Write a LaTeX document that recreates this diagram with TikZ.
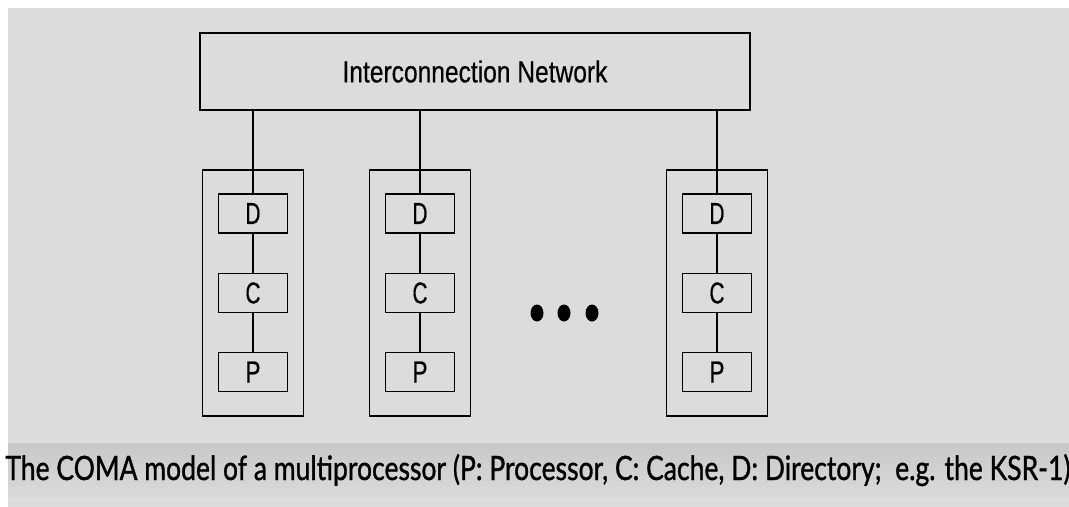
\documentclass[tikz,border=0pt]{standalone}
\usepackage{fontspec}
\setmainfont{Liberation Sans}[FakeBold=0.6]
\newfontfamily\captionfont{Lato}[FakeBold=1.2]
\usetikzlibrary{positioning}

\definecolor{paper}{RGB}{220,220,220}
\definecolor{band}{RGB}{200,200,200}
\newcommand{\narrowtext}[1]{\resizebox{0.3cm}{0.42cm}{#1}}

\begin{document}
\begin{tikzpicture}[x=0.02cm, y=-0.02cm,
	box/.style={draw, line width=1.1pt, inner sep=0pt},
	unit/.style={box, minimum width=1.38cm, minimum height=0.78cm},
	module/.style={box, minimum width=2.02cm, minimum height=4.92cm},
	link/.style={line width=0.8pt}]
	\useasboundingbox (0,0) rectangle (1069,507);
	% Background
	\fill[white] (0,0) rectangle (1069,507);
	\fill[paper] (8,8) rectangle (1069,507);
	\shade[top color=band, bottom color=paper!90!band] (8,443) rectangle (1069,497);

	% Network
	\node[box, minimum width=11cm, minimum height=1.54cm] (net) at (475,71.5)
		{\resizebox{5.3cm}{0.44cm}{Interconnection Network}};

	% Modules
	\foreach \i/\x in {1/253, 2/420, 3/717}{
		\node[module] (m\i) at (\x,293) {};
		\node[unit] (d\i) at (\x,213.5) {\narrowtext{D}};
		\node[unit] (c\i) at (\x,293) {\narrowtext{C}};
		\node[unit] (p\i) at (\x,372) {\narrowtext{P}};
		\draw[link] (net.south -| d\i) -- (d\i.north);
		\draw[link] (d\i) -- (c\i);
		\draw[link] (c\i) -- (p\i);
	}

	% Dots
	\foreach \x in {537,564,592}
		\fill (\x,313) ellipse [x radius=6.5, y radius=8.5];

	% Caption
	\node[anchor=base west, inner sep=0pt] (cap) at (5,480)
		{\resizebox{21.3cm}{0.52cm}{\captionfont The COMA model of a multiprocessor (P: Processor, C: Cache, D: Directory;~ e.g. the KSR-1)}};
\end{tikzpicture}
\end{document}
